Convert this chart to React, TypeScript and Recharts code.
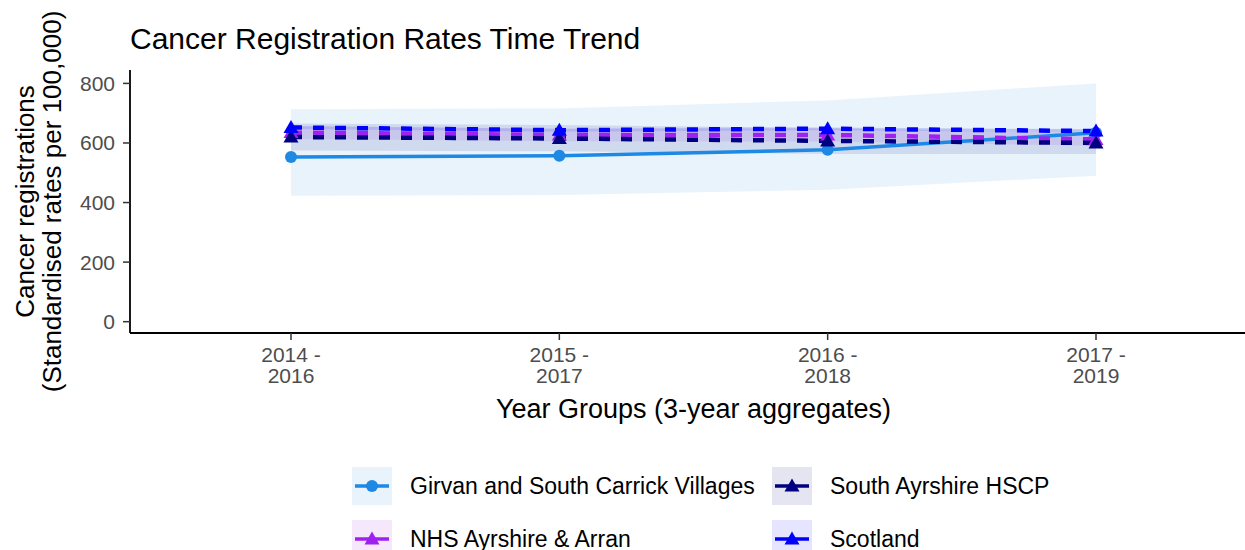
import React from 'react';
import { ComposedChart, Area, Line, XAxis, YAxis, Legend, Label } from 'recharts';

const categories = ['2014 - 2016', '2015 - 2017', '2016 - 2018', '2017 - 2019'];

const girvanRate = [553, 557, 577, 634];
const girvanLower = [423, 425, 443, 490];
const girvanUpper = [713, 716, 743, 800];

const ayrshireArranRate = [635, 627, 627, 612];
const ayrshireArranLower = [613, 606, 605, 591];
const ayrshireArranUpper = [657, 648, 649, 633];

const southAyrshireRate = [620, 615, 607, 600];
const southAyrshireLower = [575, 572, 563, 563];
const southAyrshireUpper = [665, 660, 650, 647];

const scotlandRate = [652, 643, 648, 640];
const scotlandLower = [647, 638, 643, 635];
const scotlandUpper = [657, 648, 653, 645];

const yTicks = [0, 200, 400, 600, 800];

const FONT = '"Liberation Sans", Arial, Helvetica, sans-serif';

const series = [
  { key: 'girvan', name: 'Girvan and South Carrick Villages', color: '#1E88E5', fill: '#1E88E5', shape: 'circle', dashed: false },
  { key: 'nhs', name: 'NHS Ayrshire & Arran', color: '#A020F0', fill: '#A020F0', shape: 'triangle', dashed: true },
  { key: 'sa', name: 'South Ayrshire HSCP', color: '#000080', fill: '#000080', shape: 'triangle', dashed: true },
  { key: 'scot', name: 'Scotland', color: '#0000FF', fill: '#0000FF', shape: 'triangle', dashed: true },
];

const data = categories.map((category, i) => ({
  category,
  girvan: girvanRate[i],
  girvanBand: [girvanLower[i], girvanUpper[i]],
  nhs: ayrshireArranRate[i],
  nhsBand: [ayrshireArranLower[i], ayrshireArranUpper[i]],
  sa: southAyrshireRate[i],
  saBand: [southAyrshireLower[i], southAyrshireUpper[i]],
  scot: scotlandRate[i],
  scotBand: [scotlandLower[i], scotlandUpper[i]],
}));

const makeDot = (shape: string, color: string) => (props: any) => {
  const { cx, cy, index } = props;
  if (cx == null || cy == null) return <g key={`d-${index}`} />;
  if (shape === 'circle') {
    return <circle key={`d-${index}`} cx={cx} cy={cy} r={6} fill={color} stroke="none" />;
  }
  return (
    <path
      key={`d-${index}`}
      d={`M${cx},${cy - 7.5} L${cx + 7.5},${cy + 5.5} L${cx - 7.5},${cy + 5.5} Z`}
      fill={color}
      stroke="none"
    />
  );
};

const XTick = (props: any) => {
  const { x, y, payload } = props;
  const parts = String(payload.value).split(' - ');
  return (
    <text x={x} y={y} fill="#4D4D4D" fontSize={21} fontFamily={FONT} textAnchor="middle">
      <tspan x={x} y={y + 20}>{parts[0] + ' -'}</tspan>
      <tspan x={x} y={y + 41}>{parts[1]}</tspan>
    </text>
  );
};

const YTitle = (props: any) => {
  const vb = props.viewBox || { x: 0, y: 70, width: 130, height: 263 };
  const cy = vb.y + vb.height / 2;
  return (
    <g>
      <text x={34} y={cy} transform={`rotate(-90 34 ${cy})`} textAnchor="middle" fontSize={26} fontFamily={FONT} fill="#000">
        Cancer registrations
      </text>
      <text x={61} y={cy} transform={`rotate(-90 61 ${cy})`} textAnchor="middle" fontSize={26} fontFamily={FONT} fill="#000">
        (Standardised rates per 100,000)
      </text>
    </g>
  );
};

const XTitle = (props: any) => {
  const vb = props.viewBox || { x: 130, y: 333, width: 1127, height: 100 };
  const cx = vb.x + vb.width / 2;
  return (
    <text x={cx} y={418} textAnchor="middle" fontSize={27} fontFamily={FONT} fill="#000">
      Year Groups (3-year aggregates)
    </text>
  );
};

const legendLayout = [
  { key: 'girvan', kx: 12, ky: 7 },
  { key: 'sa', kx: 432, ky: 7 },
  { key: 'nhs', kx: 12, ky: 60 },
  { key: 'scot', kx: 432, ky: 60 },
];

const renderLegend = () => (
  <svg width={760} height={100} style={{ display: 'block', overflow: 'visible' }}>
    {legendLayout.map((item) => {
      const s = series.find((d) => d.key === item.key)!;
      const cx = item.kx + 20;
      const cy = item.ky + 19;
      return (
        <g key={item.key}>
          <rect x={item.kx} y={item.ky} width={40} height={38} fill={s.fill} fillOpacity={0.1} />
          <line x1={item.kx + 3} x2={item.kx + 37} y1={cy} y2={cy} stroke={s.color} strokeWidth={3.5} />
          {s.shape === 'circle' ? (
            <circle cx={cx} cy={cy} r={6} fill={s.color} />
          ) : (
            <path d={`M${cx},${cy - 7.5} L${cx + 7.5},${cy + 5.5} L${cx - 7.5},${cy + 5.5} Z`} fill={s.color} />
          )}
          <text x={item.kx + 58} y={item.ky + 27} fontSize={23} fontFamily={FONT} fill="#000">
            {s.name}
          </text>
        </g>
      );
    })}
  </svg>
);

export default function App() {
  return (
    <div style={{ position: 'absolute', left: 0, top: 0, width: 1245, height: 550, overflow: 'hidden', background: '#fff' }}>
      <div
        style={{
          position: 'absolute',
          left: 130,
          top: 21,
          fontFamily: FONT,
          fontSize: 30,
          color: '#000',
          whiteSpace: 'nowrap',
          lineHeight: '36px',
          zIndex: 2,
        }}
      >
        Cancer Registration Rates Time Trend
      </div>
      <ComposedChart
        width={1260}
        height={550}
        data={data}
        margin={{ top: 70, right: 3, bottom: 117, left: 0 }}
      >
        <XAxis
          dataKey="category"
          type="category"
          scale="point"
          padding={{ left: 161, right: 161 }}
          interval={0}
          height={100}
          tickSize={7}
          tickLine={{ stroke: '#333', strokeWidth: 1.5 }}
          axisLine={{ stroke: '#000', strokeWidth: 1.8 }}
          tick={<XTick />}
        >
          <Label content={<XTitle />} />
        </XAxis>
        <YAxis
          type="number"
          domain={[-38, 845]}
          ticks={yTicks}
          allowDataOverflow
          width={130}
          tickSize={7}
          tickMargin={8}
          tickLine={{ stroke: '#333', strokeWidth: 1.5 }}
          axisLine={{ stroke: '#000', strokeWidth: 1.8 }}
          tick={{ fill: '#4D4D4D', fontSize: 21, fontFamily: FONT }}
        >
          <Label content={<YTitle />} />
        </YAxis>
        {series.map((s) => (
          <Area
            key={`${s.key}-band`}
            dataKey={`${s.key}Band`}
            type="linear"
            stroke="none"
            fill={s.fill}
            fillOpacity={0.1}
            isAnimationActive={false}
            legendType="none"
            activeDot={false}
            dot={false}
          />
        ))}
        {series.map((s) => (
          <Line
            key={`${s.key}-line`}
            dataKey={s.key}
            name={s.name}
            type="linear"
            stroke={s.color}
            strokeWidth={s.dashed ? 4.5 : 3.5}
            strokeDasharray={s.dashed ? '11 11' : undefined}
            dot={makeDot(s.shape, s.color)}
            activeDot={false}
            isAnimationActive={false}
          />
        ))}
        <Legend
          verticalAlign="middle"
          align="center"
          layout="horizontal"
          content={renderLegend}
          wrapperStyle={{ top: 460, left: 340, width: 760, height: 100 }}
        />
      </ComposedChart>
    </div>
  );
}
